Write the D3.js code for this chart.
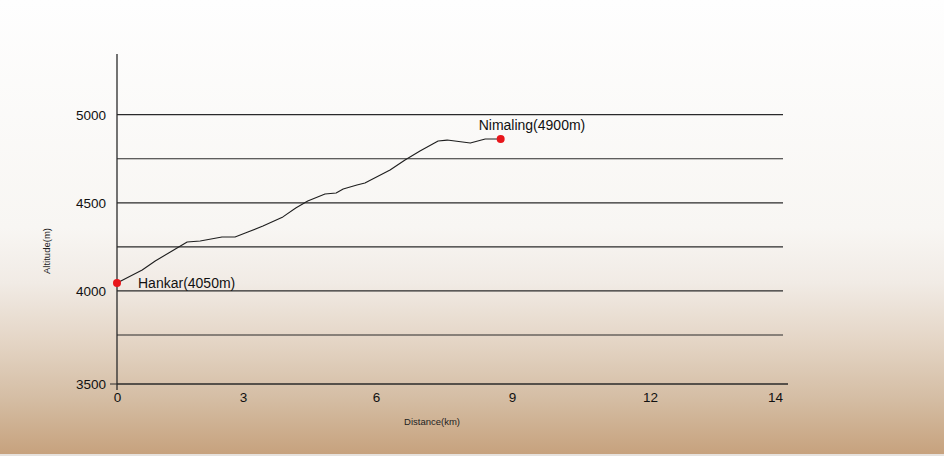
<!DOCTYPE html>
<html>
<head>
<meta charset="utf-8">
<script src="https://cdn.jsdelivr.net/npm/d3@7"></script>
<style>
  html, body { margin: 0; padding: 0; background: #fff; }
  svg { display: block; font-family: "Liberation Sans", Arial, sans-serif; }
</style>
</head>
<body>
<svg></svg>
<script>
const width = 944, height = 456;

// data
const distance = [0, 0.6, 0.91, 1.27, 1.67, 1.98, 2.5, 2.81, 3.11, 3.45, 3.9, 4.19, 4.46,
  4.85, 5.1, 5.26, 5.57, 5.75, 6.31, 6.64, 6.97, 7.37, 7.57, 8.08, 8.41, 8.75];
const altitude = [4045, 4119, 4170, 4221, 4278, 4283, 4306, 4306, 4334, 4368, 4420, 4471, 4510,
  4550, 4556, 4578, 4601, 4612, 4686, 4743, 4794, 4851, 4856, 4839, 4862, 4862];
const places = ["Hankar(4050m)", "Nimaling(4900m)"];
const xTicks = [0, 3, 6, 9, 12, 14];
const yTicks = [3500, 4000, 4500, 5000];
const gridValues = [3750, 4000, 4250, 4500, 4750, 5000];

const svg = d3.select("svg")
    .attr("width", width)
    .attr("height", height);

// paper background
const defs = svg.append("defs");
const bg = defs.append("linearGradient")
    .attr("id", "paper")
    .attr("x1", 0).attr("y1", 0).attr("x2", 0).attr("y2", 1);
[[0, "#fefefe"], [0.5, "#f8f6f3"], [0.62, "#f1ebe5"], [0.75, "#e4d5c5"],
 [0.87, "#d5bea5"], [1, "#c6a17c"]].forEach(([o, c]) => {
    bg.append("stop").attr("offset", o).attr("stop-color", c);
});

svg.append("rect").attr("width", width).attr("height", height).attr("fill", "url(#paper)");
svg.append("rect").attr("y", height - 2).attr("width", width).attr("height", 2).attr("fill", "#e6e2de");

// hand-drawn axis: spacing is uneven, so piecewise scales
const x = d3.scaleLinear()
    .domain([0, 3, 6, 9, 12, 14])
    .range([117, 243, 376, 512, 650, 775]);
const y = d3.scaleLinear()
    .domain([3500, 3750, 5000])
    .range([384, 335, 114.7]);

const ink = "#2a2a2a";

// grid lines
svg.append("g").selectAll("line")
    .data(gridValues)
    .enter().append("line")
    .attr("x1", x(0))
    .attr("x2", 783)
    .attr("y1", d => y(d))
    .attr("y2", d => y(d))
    .attr("stroke", ink)
    .attr("stroke-width", 1.2);

// baseline + vertical axis
svg.append("line")
    .attr("x1", x(0)).attr("x2", 788)
    .attr("y1", y(3500)).attr("y2", y(3500))
    .attr("stroke", ink).attr("stroke-width", 1.3);
svg.append("line")
    .attr("x1", x(0)).attr("x2", x(0))
    .attr("y1", 54).attr("y2", 390)
    .attr("stroke", ink).attr("stroke-width", 1.3);
svg.append("line")
    .attr("x1", x(0) - 7).attr("x2", x(0))
    .attr("y1", y(3500)).attr("y2", y(3500))
    .attr("stroke", ink).attr("stroke-width", 1);

const xAxis = d3.axisBottom(x).tickValues(xTicks).tickSize(0).tickPadding(8);
const yAxis = d3.axisLeft(y).tickValues(yTicks).tickFormat(d3.format("d"))
    .tickSize(0).tickPadding(11);

const gx = svg.append("g")
    .attr("transform", `translate(0,${y(3500)})`)
    .call(xAxis);
const gy = svg.append("g")
    .attr("transform", `translate(${x(0)},0)`)
    .call(yAxis);

[gx, gy].forEach(a => {
    a.select(".domain").remove();
    a.selectAll("text")
        .attr("font-family", "'Liberation Sans', Arial, sans-serif")
        .attr("font-size", 13.5)
        .attr("fill", "#111");
});

// axis titles
svg.append("text")
    .attr("x", 432).attr("y", 425)
    .attr("text-anchor", "middle")
    .attr("font-size", 9.5)
    .attr("fill", "#222")
    .text("Distance(km)");
svg.append("text")
    .attr("transform", "translate(50,251) rotate(-90)")
    .attr("text-anchor", "middle")
    .attr("font-size", 9.5)
    .attr("fill", "#222")
    .text("Altitude(m)");

// profile line
const data = distance.map((d, i) => ({ d, a: altitude[i] }));
const line = d3.line()
    .x(p => x(p.d))
    .y(p => y(p.a));

svg.append("path")
    .datum(data)
    .attr("fill", "none")
    .attr("stroke", "#1e1e1e")
    .attr("stroke-width", 1.1)
    .attr("stroke-linejoin", "round")
    .attr("d", line);

// end points
const ends = [
    { p: data[0], name: places[0], dx: 21, dy: 0 },
    { p: data[data.length - 1], name: places[1], dx: -22, dy: -14 }
];

svg.append("g").selectAll("circle")
    .data(ends)
    .enter().append("circle")
    .attr("cx", e => x(e.p.d))
    .attr("cy", e => y(e.p.a))
    .attr("r", 4)
    .attr("fill", "#e8161b");

svg.append("g").selectAll("text")
    .data(ends)
    .enter().append("text")
    .attr("x", e => x(e.p.d) + e.dx)
    .attr("y", e => y(e.p.a) + e.dy)
    .attr("dy", "0.35em")
    .attr("font-size", 14)
    .attr("fill", "#111")
    .text(e => e.name);
</script>
</body>
</html>
